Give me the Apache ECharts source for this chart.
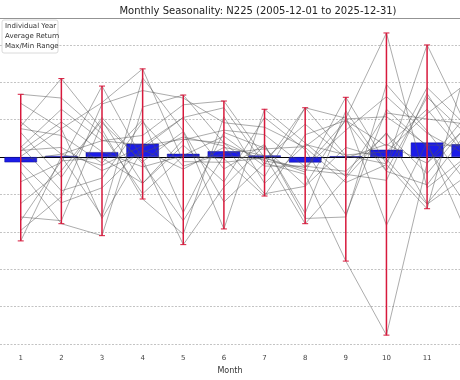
<!DOCTYPE html>
<html>
<head>
<meta charset="utf-8">
<script src="https://cdn.jsdelivr.net/npm/echarts@6/dist/echarts.min.js"></script>
<style>html,body{margin:0;padding:0;background:#fff}#c{width:460px;height:380px}</style>
</head>
<body>
<div id="c"></div>
<script>
// Monthly returns (%) of N225, months 1..12
const months = [1,2,3,4,5,6,7,8,9,10,11,12];
const monthTickLabels = [1,2,3,4,5,6,7,8,9,10,11];
const gridValues = [-25,-20,-15,-10,-5,5,10,15];
const r2006 = [3.3,-2.7,5.3,-0.9,-8.5,0.2,-0.3,4.4,-0.1,1.7,-0.8,5.8];
const r2007 = [0.9,1.3,-1.8,0.6,2.7,1.5,-4.9,-3.9,1.3,-0.3,-6.3,-2.4];
const r2008 = [-11.2,0.1,-7.9,10.6,3.5,-6.0,-0.8,-2.3,-13.9,-23.8,-0.8,4.1];
const r2009 = [-9.8,-5.3,7.1,8.9,7.9,4.6,4.0,1.3,-3.4,-1.0,-6.9,12.8];
const r2010 = [-3.3,-0.7,9.5,-0.3,-11.7,-4.0,1.6,-7.5,6.2,-1.8,8.0,2.9];
const r2011 = [0.1,3.8,-8.2,1.0,-1.6,1.3,0.2,-8.9,-2.8,3.3,-6.2,0.2];
const r2012 = [4.1,10.5,3.7,-5.6,-10.3,5.4,-3.5,1.7,0.3,0.7,5.8,10.0];
const r2013 = [7.2,3.8,7.3,11.8,-0.6,-0.7,-0.1,-2.0,8.0,-0.9,9.3,4.0];
const r2014 = [-8.5,-0.5,-0.1,-3.5,2.3,3.6,3.0,-1.3,4.9,1.5,6.4,-0.1];
const r2015 = [1.3,6.4,2.2,1.6,5.3,-1.6,1.7,-8.2,-8.0,9.7,3.5,-3.6];
const r2016 = [-8.0,-8.5,4.6,-0.6,3.4,-9.6,6.4,1.9,-2.6,5.9,5.1,4.4];
const r2017 = [-0.4,0.4,-1.1,1.5,2.4,1.9,-0.5,-1.4,3.6,8.1,3.2,0.2];
const r2018 = [1.5,-4.5,-2.8,4.7,-1.2,0.5,1.1,1.4,5.5,-9.1,2.0,-10.5];
const r2019 = [3.8,2.9,-0.8,5.0,-7.4,3.3,1.2,-3.8,5.1,5.4,1.6,1.6];
const r2020 = [-1.9,-8.9,-10.5,6.7,8.3,1.9,-2.6,6.6,0.2,-0.9,15.0,3.8];
const r2021 = [0.8,4.7,0.7,-1.3,0.2,-0.2,-5.2,3.0,4.9,-1.9,-3.7,3.5];
const r2022 = [-6.2,-1.8,4.9,-3.5,1.6,-3.3,5.3,1.0,-7.7,6.4,1.4,-6.7];
const r2023 = [4.7,0.4,2.2,2.9,7.0,7.5,-0.1,-1.7,-2.3,-3.1,8.5,-0.1];
const r2024 = [8.4,7.9,3.1,-4.9,0.2,2.8,-1.2,-1.2,-1.9,3.1,-2.2,4.4];
const r2025 = [-0.8,-6.1,-4.1,1.2,5.3,6.6,-1.0,6.6,5.2,16.6,-4.1,0.2];

const allYears = [r2006,r2007,r2008,r2009,r2010,r2011,r2012,r2013,r2014,r2015,
                  r2016,r2017,r2018,r2019,r2020,r2021,r2022,r2023,r2024,r2025];

const avgData = months.map((m,i)=>{
  const vals = allYears.map(y=>y[i]);
  return [m, vals.reduce((a,b)=>a+b,0)/vals.length];
});
const rangeData = months.map((m,i)=>{
  const vals = allYears.map(y=>y[i]);
  return [m, Math.min(...vals), Math.max(...vals)];
});

const FONT = 'DejaVu Sans';
const series = [];
allYears.forEach(y=>{
  series.push({
    name:'Individual Year', type:'line', xAxisIndex:0, yAxisIndex:0,
    data: months.map((m,i)=>[m,y[i]]),
    symbol:'none', silent:true, z:4,
    lineStyle:{color:'rgba(85,85,85,0.62)', width:0.8},
    itemStyle:{color:'#888'}
  });
});
series.push({
  name:'Average Return', type:'bar', data:avgData, barWidth:32.5, z:3,
  itemStyle:{color:'#1c1ce8', borderColor:'#0a0a90', borderWidth:0.5},
  markLine:{
    silent:true, symbol:'none', label:{show:false}, z:1,
    data: gridValues.map(v=>({yAxis:v, lineStyle:{color:'#b4b4b4', type:[2,1.5], width:0.8}}))
      .concat([{yAxis:0, lineStyle:{color:'#000', type:'solid', width:1}}])
  }
});
series.push({
  name:'Max/Min Range', type:'custom', data:rangeData, z:6,
  renderItem:(params, api)=>{
    const x = api.value(0);
    const lo = api.coord([x, api.value(1)]);
    const hi = api.coord([x, api.value(2)]);
    const c = 3;
    const st = {stroke:'#d7193c', lineWidth:1.5};
    return {type:'group', children:[
      {type:'line', shape:{x1:lo[0],y1:lo[1],x2:hi[0],y2:hi[1]}, style:st},
      {type:'line', shape:{x1:lo[0]-c,y1:lo[1],x2:lo[0]+c,y2:lo[1]}, style:{stroke:'#d7193c', lineWidth:1}},
      {type:'line', shape:{x1:hi[0]-c,y1:hi[1],x2:hi[0]+c,y2:hi[1]}, style:{stroke:'#d7193c', lineWidth:1}}
    ]};
  },
  encode:{x:0, y:[1,2]}
});

const chart = echarts.init(document.getElementById('c'), null, {renderer:'canvas'});
chart.setOption({
  animation:false,
  textStyle:{fontFamily:FONT},
  grid:{left:0, right:0, top:18, bottom:29},
  xAxis:[{
    type:'value', min:0.49, max:11.81,
    name:'Month', nameLocation:'middle', nameGap:16,
    nameTextStyle:{fontSize:8, color:'#333', fontFamily:FONT},
    axisLine:{show:true, lineStyle:{color:'#555', width:0.8}},
    axisTick:{show:true, length:3, customValues:monthTickLabels, lineStyle:{color:'#555'}},
    axisLabel:{fontSize:7, color:'#444', margin:5, customValues:monthTickLabels, fontFamily:FONT},
    splitLine:{show:false}
  },{
    type:'value', min:0.49, max:11.81, position:'top',
    axisLine:{show:true, lineStyle:{color:'#777', width:0.8}},
    axisTick:{show:false}, axisLabel:{show:false}, splitLine:{show:false}
  }],
  yAxis:{
    type:'value', min:-25.8, max:18.6,
    axisLine:{show:false}, axisTick:{show:false}, axisLabel:{show:false}, splitLine:{show:false}
  },
  legend:{
    orient:'vertical', left:0, top:23, padding:0, itemGap:3,
    itemWidth:0, itemHeight:7, icon:'rect', z:10,
    itemStyle:{opacity:0, color:'rgba(0,0,0,0)', borderWidth:0},
    lineStyle:{opacity:0, width:0},
    data:['Individual Year','Average Return','Max/Min Range'],
    textStyle:{fontSize:7, color:'#333', fontFamily:FONT},
    selectedMode:false
  },
  graphic:[
    {type:'rect', z:9, shape:{x:2, y:20, width:56, height:33, r:2},
     style:{fill:'rgba(255,255,255,0.85)', stroke:'#d0d0d0', lineWidth:0.8}},
    {type:'text', z:10, x:258, y:11,
     style:{text:'Monthly Seasonality: N225 (2005-12-01 to 2025-12-31)', fontSize:10, fill:'#222',
            fontFamily:FONT, align:'center', verticalAlign:'middle'}}
  ],
  series:series
});
</script>
</body>
</html>
